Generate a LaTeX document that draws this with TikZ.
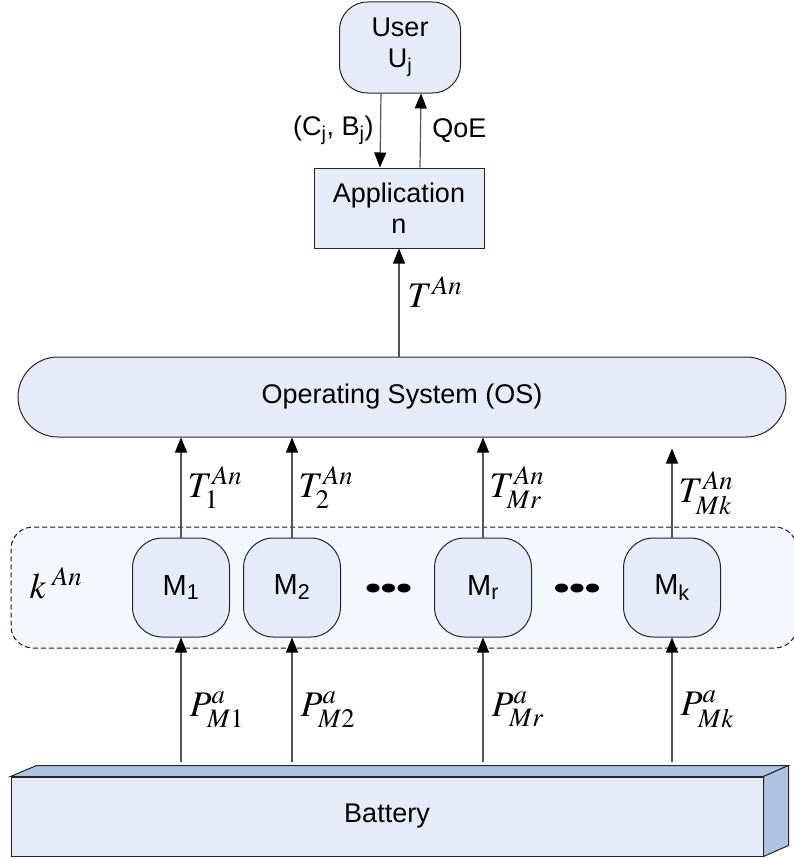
\documentclass[tikz,border=0pt]{standalone}
\usepackage{mathptmx}
\usepackage{fontspec}
\setmainfont{Liberation Sans}
\usetikzlibrary{arrows.meta,positioning,calc}
\definecolor{boxblue}{HTML}{E6ECF7}
\definecolor{faceblue}{HTML}{AFC4E3}
\definecolor{layerblue}{HTML}{F4F7FB}
\definecolor{linegray}{HTML}{555555}

\begin{document}
\begin{tikzpicture}[
    x=1pt,y=-1pt,
    font=\fontsize{27}{31}\selectfont,
    box/.style={draw=black!85,fill=boxblue,line width=1pt,align=center,inner sep=0pt},
    mod/.style={box,rounded corners=30pt,minimum width=97pt,minimum height=99pt,font=\fontsize{29}{33}\selectfont},
    arr/.style={draw=linegray,line width=1.2pt,-{Triangle[length=15pt,width=12pt,color=black]}},
    lbl/.style={font=\fontsize{36}{42}\selectfont,inner sep=2pt}
]
\useasboundingbox (0,0) rectangle (794,859);

% user, application, OS
\node[box,rounded corners=28pt,minimum width=121pt,minimum height=91pt] (user) at (400,47.5) {User\\U\textsubscript{j}};
\node[box,minimum width=170pt,minimum height=80pt] (app) at (399,208) {Application\\n};
\node[box,rounded corners=40pt,minimum width=768pt,minimum height=80pt] (os) at (402,397) {Operating System (OS)};

% module layer
\node[draw=black!90,dash pattern=on 5pt off 3pt,line width=1pt,fill=layerblue,rounded corners=22pt,minimum width=786pt,minimum height=121pt] (layer) at (404,587.5) {};
\node[lbl] (kan) at (56,583) {$k^{\;An}$};
\node[mod] (m1) at (181,587.5) {M\textsubscript{1}};
\node[mod] (m2) at (292,587.5) {M\textsubscript{2}};
\node[mod] (mr) at (483,587.5) {M\textsubscript{r}};
\node[mod] (mk) at (672,587.5) {M\textsubscript{k}};
\coordinate (dotsa) at (388.5,588);
\coordinate (dotsb) at (577,588);
\foreach \c in {dotsa,dotsb}
  \foreach \dx in {-15.5,0,15.5}
    \fill ([xshift=\dx pt]\c) ellipse [x radius=6.5pt,y radius=4.5pt];

% battery
\node[box,minimum width=752pt,minimum height=79pt] (battery) at (387,816.5) {Battery};
\filldraw[fill=faceblue,draw=black!85,line width=1pt] (battery.north west) -- ++(26,-11) -- ($(battery.north east)+(25,-11)$) -- (battery.north east) -- cycle;
\filldraw[fill=faceblue,draw=black!85,line width=1pt] (battery.north east) -- ++(25,-11) -- ++(0,80) -- (battery.south east) -- cycle;
\coordinate (btop) at ([yshift=15pt]battery.north);
\coordinate (osgap) at ([yshift=-11pt]os.south);

% power into modules
\draw[arr] (btop -| m1) -- node[lbl,right,pos=0.42,xshift=6pt] {$P^{a}_{M1}$} (m1.south);
\draw[arr] (btop -| m2) -- node[lbl,right,pos=0.42,xshift=6pt] {$P^{a}_{M2}$} (m2.south);
\draw[arr] (btop -| mr) -- node[lbl,right,pos=0.42,xshift=6pt] {$P^{a}_{Mr}$} (mr.south);
\draw[arr] (btop -| mk) -- node[lbl,right,pos=0.42,xshift=6pt] {$P^{a}_{Mk}$} (mk.south);

% modules to OS
\draw[arr] (m1.north) -- node[lbl,right,xshift=4pt] {$T^{An}_{1}$} (os.south -| m1);
\draw[arr] (m2.north) -- node[lbl,right,xshift=4pt] {$T^{An}_{2}$} (os.south -| m2);
\draw[arr] (mr.north) -- node[lbl,right,xshift=4pt] {$T^{An}_{Mr}$} (os.south -| mr);
\draw[arr] (mk.north) -- node[lbl,right,xshift=4pt] {$T^{An}_{Mk}$} (osgap -| mk);

% OS to application to user
\draw[arr] (os.north -| app) -- node[lbl,right,pos=0.6,xshift=6pt] {$T^{An}$} (app.south);
\draw[arr] ([xshift=-19pt]user.south) -- node[left,xshift=-3pt] {(C\textsubscript{j}, B\textsubscript{j})} ([xshift=-19pt]app.north);
\draw[arr] ([xshift=21pt]app.north) -- node[right,xshift=8pt] {QoE} ([xshift=21pt]user.south);
\end{tikzpicture}
\end{document}
